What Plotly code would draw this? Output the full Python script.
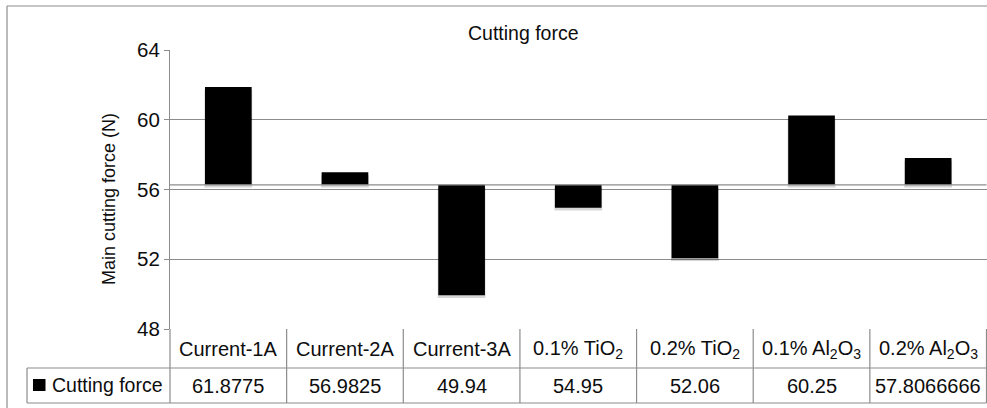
import plotly.graph_objects as go

# ---- data -------------------------------------------------------------
categories = [
    "Current-1A",
    "Current-2A",
    "Current-3A",
    "0.1% TiO<sub>2</sub>",
    "0.2% TiO<sub>2</sub>",
    "0.1% Al<sub>2</sub>O<sub>3</sub>",
    "0.2% Al<sub>2</sub>O<sub>3</sub>",
]
cutting_force = [61.8775, 56.9825, 49.94, 54.95, 52.06, 60.25, 57.8066666]
value_labels = ["61.8775", "56.9825", "49.94", "54.95", "52.06", "60.25", "57.8066666"]
series_name = "Cutting force"
y_ticks = [48, 52, 56, 60, 64]

# horizontal axis crosses the value axis here (bars grow from this level)
AXIS_CROSS = 56.27
SHADOW_DROP = 0.16  # shadow offset below each bar, in axis units

# ---- layout geometry (pixels) ----------------------------------------
W, H = 987, 408
PLOT_L, PLOT_R = 170, 986.5
PLOT_T, PLOT_B = 50, 329
ROW1_B, ROW2_B = 368, 403
TABLE_L = 27
GRID = "#8c8c8c"
FONT = "Liberation Sans, Arial, sans-serif"
TXT = "#0d0d0d"


def px(x):
    return x / W


def py(y):
    return 1 - y / H


xs = list(range(len(categories)))
heights = [v - AXIS_CROSS for v in cutting_force]

fig = go.Figure()

# soft drop shadow just below each bar
fig.add_trace(go.Bar(
    x=xs,
    y=heights,
    base=AXIS_CROSS - SHADOW_DROP,
    width=0.41,
    marker=dict(color="rgba(0,0,0,0.16)", line=dict(width=0)),
    hoverinfo="skip",
    showlegend=False,
))

fig.add_trace(go.Bar(
    x=xs,
    y=heights,
    base=AXIS_CROSS,
    width=0.4,
    marker=dict(color="#000000", line=dict(width=0)),
    name=series_name,
    customdata=cutting_force,
    hovertemplate="%{customdata}<extra></extra>",
    showlegend=False,
))

fig.update_layout(
    width=W,
    height=H,
    margin=dict(l=0, r=0, t=0, b=0, autoexpand=False),
    paper_bgcolor="white",
    plot_bgcolor="white",
    barmode="overlay",
    font=dict(family=FONT, size=19, color=TXT),
    xaxis=dict(
        domain=[px(PLOT_L), px(PLOT_R)],
        range=[-0.5, len(categories) - 0.5],
        showticklabels=False,
        showgrid=False,
        zeroline=False,
        ticks="",
        automargin=False,
        fixedrange=True,
    ),
    yaxis=dict(
        domain=[py(PLOT_B), py(PLOT_T)],
        range=[48, 64],
        tickvals=y_ticks,
        ticktext=[str(t) for t in y_ticks],
        showgrid=True,
        gridcolor=GRID,
        gridwidth=1.2,
        zeroline=False,
        showline=True,
        linecolor=GRID,
        linewidth=1.2,
        ticks="outside",
        ticklen=5,
        tickcolor=GRID,
        tickfont=dict(size=20.5, family=FONT, color=TXT),
        automargin=False,
        fixedrange=True,
    ),
)

shapes = []


def hline(x0, x1, y, xref="paper", yref="paper"):
    shapes.append(dict(type="line", xref=xref, yref=yref, x0=x0, x1=x1, y0=y, y1=y,
                       line=dict(color=GRID, width=1.2)))


def vline(x, y0, y1, xref="paper"):
    shapes.append(dict(type="line", xref=xref, yref="paper", x0=x, x1=x, y0=y0, y1=y1,
                       line=dict(color=GRID, width=1.2)))


# outer chart frame (top and left edges)
hline(px(7), 1.0, py(6))
vline(px(7), py(6), 0)

# horizontal axis line at the crossing value
shapes.append(dict(type="line", xref="paper", yref="y", x0=px(PLOT_L), x1=px(PLOT_R),
                   y0=AXIS_CROSS, y1=AXIS_CROSS, line=dict(color=GRID, width=1.2)))

# right edge of plot/table
vline(px(PLOT_R), py(PLOT_B), py(ROW2_B))

# data table grid
hline(px(TABLE_L), px(PLOT_R), py(ROW1_B))
hline(px(TABLE_L), px(PLOT_R), py(ROW2_B))
vline(px(TABLE_L), py(ROW1_B), py(ROW2_B))
vline(px(PLOT_L), py(PLOT_B), py(ROW2_B))
for i in range(1, len(categories)):
    vline(i - 0.5, py(PLOT_B), py(ROW2_B), xref="x")

# legend key square
shapes.append(dict(type="rect", xref="paper", yref="paper",
                   x0=px(33), x1=px(45.5), y0=py(379), y1=py(391),
                   fillcolor="black", line=dict(width=0)))

fig.update_layout(shapes=shapes)

annotations = []

# chart title
annotations.append(dict(text="Cutting force", xref="paper", yref="paper",
                        x=px(523), y=py(33), showarrow=False,
                        xanchor="center", yanchor="middle",
                        font=dict(size=19.5, family=FONT, color=TXT)))

# value axis title
annotations.append(dict(text="Main cutting force (N)", xref="paper", yref="paper",
                        x=px(109), y=py(199), showarrow=False, textangle=-90,
                        xanchor="center", yanchor="middle",
                        font=dict(size=18, family=FONT, color=TXT)))

# table header row (category names) and value row
for i, (cat, lab) in enumerate(zip(categories, value_labels)):
    annotations.append(dict(text=cat, xref="x", yref="paper", x=i, y=py(349),
                            showarrow=False, xanchor="center", yanchor="middle",
                            font=dict(size=20, family=FONT, color=TXT)))
    annotations.append(dict(text=lab, xref="x", yref="paper", x=i, y=py(386),
                            showarrow=False, xanchor="center", yanchor="middle",
                            font=dict(size=20, family=FONT, color=TXT)))

# series name in the table's row header
annotations.append(dict(text=series_name, xref="paper", yref="paper",
                        x=px(50), y=py(385), showarrow=False,
                        xanchor="left", yanchor="middle",
                        font=dict(size=19.5, family=FONT, color=TXT)))

fig.update_layout(annotations=annotations)

fig.write_html("out.html")
